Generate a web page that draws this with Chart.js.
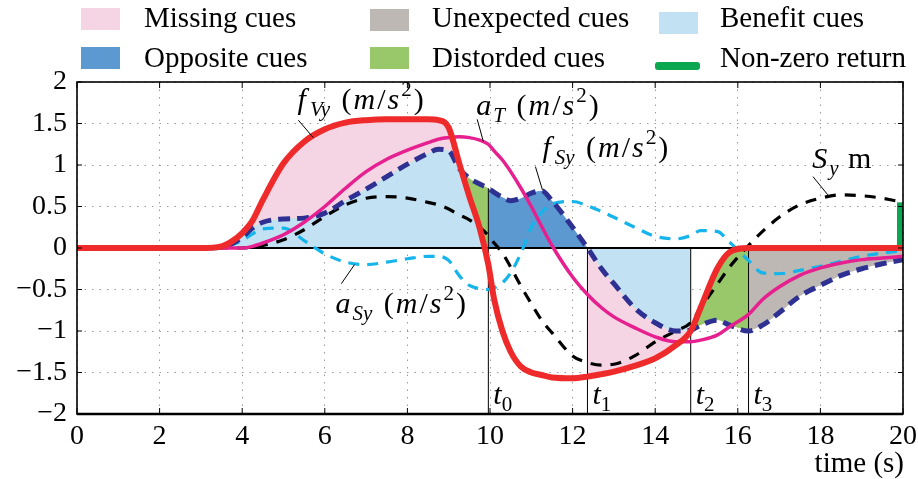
<!DOCTYPE html>
<html>
<head>
<meta charset="utf-8">
<script src="https://cdn.jsdelivr.net/npm/chart.js@4.4.1/dist/chart.umd.min.js"></script>
<style>
  html, body { margin: 0; padding: 0; background: #fff; }
  #wrap { width: 918px; height: 479px; }
</style>
</head>
<body>
<div id="wrap"><canvas id="cues-chart" width="918" height="479"></canvas></div>
<script>
// sample times (s)
var time = [0, 1, 2, 3, 3.5, 3.75, 4, 4.25, 4.5, 5, 5.5, 6, 6.5, 7, 7.5, 8, 8.5, 8.75, 9, 9.25,
            9.5, 9.75, 9.96, 10.1, 10.3, 10.5, 10.75, 11, 11.25, 11.5, 12, 12.36, 12.7, 13, 13.5, 14,
            14.5, 14.86, 15.1, 15.5, 15.8, 16.26, 16.6, 17, 17.5, 18, 18.5, 19, 19.5, 20];

// series, one value per sample
var fVy = [0, 0, 0, 0, 0.02, 0.08, 0.18, 0.33, 0.58, 1.02, 1.28, 1.43, 1.51, 1.54, 1.55, 1.55, 1.55, 1.54, 1.45, 1.03,
           0.62, 0.24, -0.2, -0.62, -1.0, -1.25, -1.43, -1.5, -1.53, -1.56, -1.57, -1.55, -1.52, -1.49, -1.42, -1.33,
           -1.17, -1.0, -0.72, -0.25, -0.05, 0, 0, 0, 0, 0, 0, 0, 0, 0];
var fSy = [0, 0, 0, 0, 0.01, 0.05, 0.13, 0.24, 0.31, 0.35, 0.36, 0.42, 0.57, 0.71, 0.86, 1.01, 1.14, 1.19, 1.17, 0.96,
           0.84, 0.77, 0.72, 0.67, 0.61, 0.57, 0.6, 0.66, 0.69, 0.57, 0.25, 0, -0.25, -0.43, -0.72, -0.9,
           -1.0, -0.99, -0.93, -0.87, -0.93, -1.0, -0.93, -0.78, -0.58, -0.45, -0.33, -0.25, -0.19, -0.14];
var aT  = [0, 0, 0, 0, 0, 0, 0, 0.02, 0.06, 0.16, 0.31, 0.5, 0.72, 0.92, 1.07, 1.18, 1.27, 1.31, 1.33, 1.34,
           1.33, 1.3, 1.25, 1.17, 1.06, 0.92, 0.72, 0.5, 0.26, 0.03, -0.35, -0.56, -0.72, -0.83, -0.96, -1.07,
           -1.13, -1.13, -1.11, -1.05, -0.95, -0.8, -0.62, -0.47, -0.33, -0.24, -0.18, -0.14, -0.12, -0.1];
var aSy = [0, 0, 0, 0, 0.01, 0.04, 0.09, 0.17, 0.23, 0.24, 0.09, -0.07, -0.17, -0.2, -0.17, -0.13, -0.1, -0.1, -0.15, -0.33,
           -0.45, -0.49, -0.5, -0.48, -0.42, -0.3, -0.06, 0.25, 0.43, 0.53, 0.56, 0.51, 0.44, 0.37, 0.25, 0.14,
           0.11, 0.15, 0.21, 0.2, 0.07, -0.15, -0.3, -0.31, -0.27, -0.22, -0.16, -0.1, -0.06, -0.03];
var Sy  = [0, 0, 0, 0, 0, 0, 0, 0.01, 0.03, 0.1, 0.22, 0.38, 0.52, 0.6, 0.62, 0.6, 0.55, 0.52, 0.47, 0.4,
           0.34, 0.25, 0.15, 0.06, -0.06, -0.23, -0.46, -0.67, -0.87, -1.02, -1.3, -1.38, -1.41, -1.4, -1.3, -1.13,
           -1.0, -0.9, -0.72, -0.44, -0.23, 0.03, 0.2, 0.37, 0.52, 0.6, 0.64, 0.63, 0.6, 0.55];

// event instants t0..t3
var eventTimes = [9.96, 12.36, 14.86, 16.26];
var eventLabels = ['0', '1', '2', '3'];

var FONT = "'Liberation Serif', 'Times New Roman', serif";
var RED = '#ee2a2a', MAGENTA = '#e6208f', NAVY = '#2e3192', CYAN = '#15b4ea';
var PINK = '#f5d4e4', GREY = '#bdb8b4', LIGHTBLUE = '#c2e2f3', DARKBLUE = '#5c99d1', GREEN = '#98c86a', RETURN_GREEN = '#0aa650';

function pts(vals, from, to) {
    return time.map(function (t, i) {
        var inside = from === undefined || (t >= from - 1e-9 && t <= to + 1e-9);
        return {x: t, y: inside ? vals[i] : null};
    });
}
function valueAt(vals, t) { return vals[time.indexOf(t)]; }

function curve(label, vals, color, width, dash, order) {
    return {label: label, data: pts(vals), borderColor: color, borderWidth: width, borderDash: dash,
        fill: false, pointRadius: 0, cubicInterpolationMode: 'monotone', order: order};
}
function area(label, vals, from, to, fill, color, order) {
    return {label: label, data: pts(vals, from, to), borderColor: 'rgba(0,0,0,0)', borderWidth: 1,
        backgroundColor: color || 'rgba(0,0,0,0)', fill: fill, pointRadius: 0,
        cubicInterpolationMode: 'monotone', order: order};
}

var eventData = [];
eventTimes.forEach(function (t) {
    eventData.push({x: t, y: -2}, {x: t, y: Math.max(0, valueAt(fSy, t))}, {x: t, y: null});
});

var datasets = [
    curve('fVy', fVy, RED, 6, [], 1),                           // 0
    curve('aT', aT, MAGENTA, 3.5, [], 2),                       // 1
    curve('fSy', fSy, NAVY, 5, [12, 7], 3),                     // 2
    curve('aSy', aSy, CYAN, 3.2, [11, 8], 4),                   // 3
    curve('Sy', Sy, '#000', 3.2, [11, 9], 5),                   // 4
    {label: 'zero', data: [{x: 0, y: 0}, {x: 20, y: 0}], borderColor: '#000', borderWidth: 2,
        pointRadius: 0, fill: false, order: 6},                 // 5
    {label: 'events', data: eventData, borderColor: '#000', borderWidth: 1, pointRadius: 0,
        fill: false, spanGaps: false, tension: 0, order: 7},    // 6
    {label: 'Non-zero return', data: [{x: 20, y: 0}, {x: 20, y: Sy[Sy.length - 1]}],
        borderColor: RETURN_GREEN, borderWidth: 12, pointRadius: 0, fill: false, clip: 0, order: 8}, // 7
    area('Opposite cues', fSy, eventTimes[0], eventTimes[1], 'origin', DARKBLUE, 11),    // 8
    area('Benefit cues', fSy, 0, eventTimes[0], 'origin', LIGHTBLUE, 12),                // 9
    area('Benefit cues 2', fSy, eventTimes[1], eventTimes[2], 'origin', LIGHTBLUE, 12),  // 10
    area('Unexpected cues', fSy, eventTimes[3], 20, 'origin', GREY, 11),                 // 11
    area('Missing/Distorded 1', fVy, 0, eventTimes[0], {target: 9, above: PINK, below: GREEN}, null, 10),      // 12
    area('fSy late', fSy, eventTimes[1], eventTimes[3], false, null, 13),                                       // 13
    area('Missing/Distorded 2', fVy, eventTimes[1], eventTimes[3], {target: 13, above: GREEN, below: PINK}, null, 10) // 14
];

// text labels with leader lines, in data units
var unitParts = [[' ', 0], ['(', 0], ['m', 1], ['/', 0], ['s', 1], ['2', 0, 'sup'], [')', 0]];
var notes = [
    {x: 5.34, y: 1.67, parts: [['f', 1], ['Vy', 1, 'sub']].concat(unitParts), line: [5.36, 1.54, 5.72, 1.33]},
    {x: 9.67, y: 1.6, parts: [['a', 1], ['T', 1, 'sub']].concat(unitParts), line: [9.69, 1.55, 9.84, 1.28]},
    {x: 11.27, y: 1.1, parts: [['f', 1], ['Sy', 1, 'sub']].concat(unitParts), line: [11.1, 0.98, 11.27, 0.70]},
    {x: 17.8, y: 0.96, parts: [['S', 1], ['y', 1, 'sub'], [' m', 0]], line: [17.82, 0.86, 18.18, 0.64]},
    {x: 6.26, y: -0.78, parts: [['a', 1], ['Sy', 1, 'sub']].concat(unitParts), line: [6.4, -0.43, 6.72, -0.2]}
];

var legendItems = [
    {text: 'Missing cues', color: PINK, x: 81, y: 8},
    {text: 'Unexpected cues', color: GREY, x: 370, y: 9},
    {text: 'Benefit cues', color: LIGHTBLUE, x: 659, y: 12},
    {text: 'Opposite cues', color: DARKBLUE, x: 81, y: 47},
    {text: 'Distorded cues', color: GREEN, x: 370, y: 47},
    {text: 'Non-zero return', color: RETURN_GREEN, x: 659, y: 47, line: true}
];
var legendTextX = [144, 432, 720];

function drawRich(ctx, x, y, parts, gap) {
    ctx.textAlign = 'left';
    ctx.textBaseline = 'alphabetic';
    parts.forEach(function (p) {
        var small = p[2] === 'sub' || p[2] === 'sup';
        ctx.font = (p[1] ? 'italic ' : '') + (small ? 21 : 30) + 'px ' + FONT;
        var dy = p[2] === 'sub' ? 7 : (p[2] === 'sup' ? -13 : 0);
        ctx.fillText(p[0], x, y + dy);
        x += ctx.measureText(p[0]).width + (p[0] === 'f' ? 2 : 0) + gap;
    });
}

const decorations = {
    id: 'decorations',
    afterDraw(chart) {
        const {ctx, chartArea: {top, bottom, left, right}, scales: {x, y}} = chart;
        ctx.save();
        ctx.fillStyle = '#000';
        ctx.strokeStyle = '#000';

        // inward ticks
        ctx.lineWidth = 1;
        ctx.beginPath();
        y.ticks.forEach(function (t) {
            var py = y.getPixelForValue(t.value);
            ctx.moveTo(left, py); ctx.lineTo(left + 5, py);
            ctx.moveTo(right, py); ctx.lineTo(right - 5, py);
        });
        x.ticks.forEach(function (t) {
            var px = x.getPixelForValue(t.value);
            ctx.moveTo(px, bottom); ctx.lineTo(px, bottom - 6);
            ctx.moveTo(px, top); ctx.lineTo(px, top + 6);
        });
        ctx.stroke();

        // frame
        ctx.lineWidth = 1.6;
        ctx.strokeRect(left, top, right - left, bottom - top);
        ctx.lineWidth = 2.6;
        ctx.beginPath();
        ctx.moveTo(left, bottom); ctx.lineTo(right, bottom);
        ctx.stroke();

        // event labels
        eventTimes.forEach(function (t, i) {
            drawRich(ctx, x.getPixelForValue(t) + 5, y.getPixelForValue(-1.88), [['t', 1], [eventLabels[i], 0, 'sub']], 0);
        });

        // annotations
        ctx.lineWidth = 1;
        notes.forEach(function (n) {
            ctx.beginPath();
            ctx.moveTo(x.getPixelForValue(n.line[0]), y.getPixelForValue(n.line[1]));
            ctx.lineTo(x.getPixelForValue(n.line[2]), y.getPixelForValue(n.line[3]));
            ctx.stroke();
            drawRich(ctx, x.getPixelForValue(n.x), y.getPixelForValue(n.y), n.parts, 2);
        });

        // axis title
        ctx.font = '29px ' + FONT;
        ctx.textAlign = 'right';
        ctx.textBaseline = 'alphabetic';
        ctx.fillText('time (s)', right + 1, 472);

        // legend
        legendItems.forEach(function (item, i) {
            if (item.line) {
                ctx.fillStyle = item.color;
                ctx.beginPath();
                ctx.roundRect(item.x - 4, item.y + 15, 45, 8, 3);
                ctx.fill();
            } else {
                ctx.fillStyle = item.color;
                ctx.fillRect(item.x, item.y, 39, 22);
            }
            ctx.fillStyle = '#000';
            ctx.font = '29px ' + FONT;
            ctx.textAlign = 'left';
            ctx.fillText(item.text, legendTextX[i % 3], i < 3 ? 27 : 67);
        });
        ctx.restore();
    }
};

Chart.defaults.font.family = FONT;
Chart.defaults.font.size = 28;
Chart.defaults.color = '#000';

var config = {
    type: 'line',
    data: {datasets: datasets},
    options: {
        responsive: false,
        animation: false,
        devicePixelRatio: 1,
        layout: {padding: {top: 82, right: 0, bottom: 0, left: 0}},
        plugins: {legend: {display: false}, tooltip: {enabled: false}},
        scales: {
            x: {
                type: 'linear', min: 0, max: 20,
                ticks: {stepSize: 2, padding: 6, maxRotation: 0},
                grid: {color: '#9a9a9a', lineWidth: 1, drawTicks: false},
                border: {display: false, dash: [1.5, 6]},
                afterFit: function (s) { s.height = 65; s.paddingRight = 15; s.paddingLeft = 0; }
            },
            y: {
                min: -2, max: 2,
                ticks: {stepSize: 0.5, padding: 10,
                    callback: function (v) { return v < 0 ? '\u2212' + Math.abs(v) : String(v); }},
                grid: {color: '#9a9a9a', lineWidth: 1, drawTicks: false},
                border: {display: false, dash: [1.5, 6]},
                afterFit: function (s) { s.width = 77; }
            }
        }
    },
    plugins: [decorations]
};

new Chart(document.getElementById('cues-chart'), config);
</script>
</body>
</html>
